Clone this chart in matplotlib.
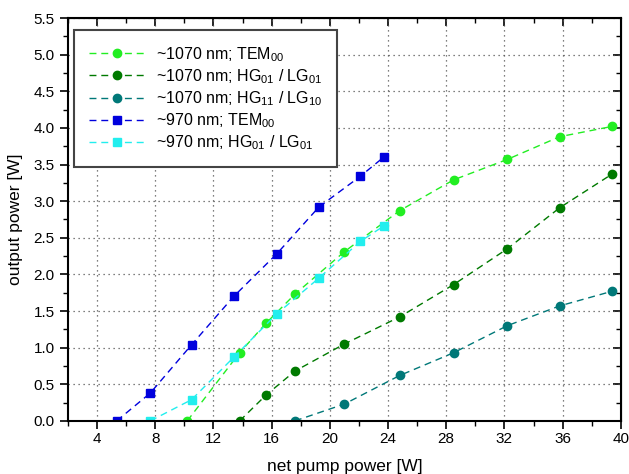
import matplotlib
matplotlib.use("Agg")
import matplotlib.pyplot as plt
from matplotlib.ticker import MultipleLocator

plt.rcParams['font.family'] = ['Liberation Sans', 'DejaVu Sans']
plt.rcParams['mathtext.fontset'] = 'custom'
plt.rcParams['mathtext.rm'] = 'Liberation Sans'

# ~1070 nm series (circles)
x_1070_tem = [10.2, 13.8, 15.6, 17.6, 21.0, 24.8, 28.5, 32.2, 35.8, 39.4]
y_1070_tem = [0.0, 0.93, 1.33, 1.73, 2.31, 2.87, 3.29, 3.57, 3.88, 4.02]

x_1070_hg01 = [13.8, 15.6, 17.6, 21.0, 24.8, 28.5, 32.2, 35.8, 39.4]
y_1070_hg01 = [0.0, 0.35, 0.68, 1.05, 1.42, 1.86, 2.35, 2.91, 3.37]

x_1070_hg11 = [17.6, 21.0, 24.8, 28.5, 32.2, 35.8, 39.4]
y_1070_hg11 = [0.0, 0.23, 0.62, 0.93, 1.30, 1.57, 1.77]

# ~970 nm series (squares)
x_970_tem = [5.35, 7.66, 10.5, 13.4, 16.35, 19.25, 22.1, 23.7]
y_970_tem = [0.0, 0.38, 1.04, 1.70, 2.28, 2.92, 3.34, 3.60]

x_970_hg01 = [7.66, 10.5, 13.4, 16.35, 19.25, 22.1, 23.7]
y_970_hg01 = [0.0, 0.29, 0.87, 1.46, 1.95, 2.45, 2.66]

series = [
    (x_1070_tem, y_1070_tem, '#22ee22', 'o', r'~1070 nm; TEM$_{00}$'),
    (x_1070_hg01, y_1070_hg01, '#007a00', 'o', r'~1070 nm; HG$_{01}$ / LG$_{01}$'),
    (x_1070_hg11, y_1070_hg11, '#007878', 'o', r'~1070 nm; HG$_{11}$ / LG$_{10}$'),
    (x_970_tem, y_970_tem, '#0000dd', 's', r'~970 nm; TEM$_{00}$'),
    (x_970_hg01, y_970_hg01, '#22eeee', 's', r'~970 nm; HG$_{01}$ / LG$_{01}$'),
]

fig = plt.figure(figsize=(6.29, 4.74), dpi=100)
ax = fig.add_axes([0.108, 0.112, 0.879, 0.850])

for xs, ys, col, mk, lab in series:
    ax.plot(xs, ys, linestyle=(0, (5, 3.5)), color=col, lw=1.0,
            marker=mk, markersize=6.0 if mk == 'o' else 5.2, label=lab)

ax.set_xlim(2, 40)
ax.set_ylim(0, 5.5)
ax.xaxis.set_minor_locator(MultipleLocator(2))
ax.yaxis.set_major_locator(MultipleLocator(0.5))
ax.yaxis.set_minor_locator(MultipleLocator(0.25))
ax.set_xticks([4, 8, 12, 16, 20, 24, 28, 32, 36, 40])
ax.yaxis.set_major_formatter(matplotlib.ticker.FormatStrFormatter('%.1f'))

ax.grid(True, which='major', linestyle=(0, (1, 3)), color='#555555', lw=0.9)
ax.tick_params(which='both', direction='out', labelsize=11, top=False, right=False)
ax.tick_params(axis='x', which='major', pad=2)
ax.tick_params(which='major', length=6, width=1.2)
ax.tick_params(which='minor', length=3.5, width=1.0)
for sp in ax.spines.values():
    sp.set_linewidth(1.5)

# inward ticks on top and right
axt = ax.secondary_xaxis('top')
axt.xaxis.set_major_locator(MultipleLocator(4))
axt.xaxis.set_minor_locator(MultipleLocator(2))
axt.tick_params(which='both', direction='in', labeltop=False)
axt.tick_params(which='major', length=6, width=1.2)
axt.tick_params(which='minor', length=3.5, width=1.0)
axr = ax.secondary_yaxis('right')
axr.yaxis.set_major_locator(MultipleLocator(0.5))
axr.yaxis.set_minor_locator(MultipleLocator(0.25))
axr.tick_params(which='both', direction='in', labelright=False)
axr.tick_params(which='major', length=6, width=1.2)
axr.tick_params(which='minor', length=3.5, width=1.0)

ax.set_xlabel('net pump power [W]', fontsize=12.5, labelpad=9)
ax.set_ylabel('output power [W]', fontsize=12.5, labelpad=8)

leg = ax.legend(loc='upper left', fontsize=11.5, frameon=True, fancybox=False,
                edgecolor='#444444', handlelength=3.6, borderpad=0.9,
                handletextpad=0.6, labelspacing=0.22,
                bbox_to_anchor=(0.0, 0.985), borderaxespad=0.4)
leg.get_frame().set_linewidth(1.5)
leg.get_frame().set_alpha(1)

fig.savefig('out.png', dpi=100)
